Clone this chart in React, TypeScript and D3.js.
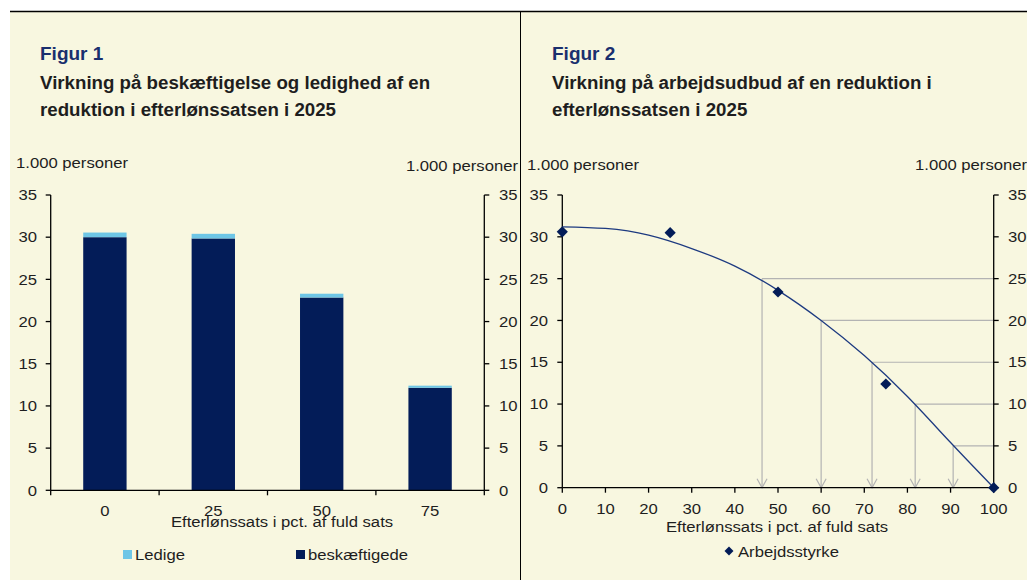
import React from 'react';
import * as d3 from 'd3';

// ---------- data ----------
const categories = ['0', '25', '50', '75'];
const ledige = [0.55, 0.55, 0.45, 0.25];
const beskaeftigede = [30.0, 29.85, 22.85, 12.15];
const yTicks = [0, 5, 10, 15, 20, 25, 30, 35];

const rateX = [0, 25, 50, 75, 100];
const arbejdsstyrke = [30.6, 30.5, 23.4, 12.4, 0];
const trendX = [0, 10, 20, 30, 40, 50, 60, 70, 80, 90, 100];
const trendY = [31.2, 31.0, 30.2, 28.6, 26.5, 23.6, 20.0, 15.8, 10.9, 5.4, 0];
const refLevels = [25, 20, 15, 10, 5];
const refX = [46.3, 60.0, 71.8, 81.8, 90.6];
const xTicks2 = [0, 10, 20, 30, 40, 50, 60, 70, 80, 90, 100];

// ---------- styles ----------
const CREAM = '#f8f7e0';
const NAVY = '#031c58';
const LIGHT = '#6ec6e6';
const TITLE = '#1a2f6e';
const TXT = '#1e1e1e';
const GRAY = '#b3b3b3';
const FONT = '"Liberation Sans", Arial, sans-serif';
const FS = 14.5;
const SX = 1.15;

const T = ({ x, y, anchor = 'start', children }: any) => (
  <text
    transform={`translate(${x},${y}) scale(${SX},1)`}
    textAnchor={anchor}
    fontFamily={FONT}
    fontSize={FS}
    fill={TXT}
  >
    {children}
  </text>
);

export default function App() {
  // ----- left chart scales -----
  const yL = d3.scaleLinear().domain([0, 35]).range([490.3, 195]);
  const xB = d3
    .scaleBand<string>()
    .domain(categories)
    .range([50.7, 484.3])
    .paddingInner(0.6)
    .paddingOuter(0.3);
  const step = xB.step();
  const boundaries = d3.range(categories.length + 1).map((i) => 50.7 + i * step);

  // ----- right chart scales -----
  const x2 = d3.scaleLinear().domain([0, 100]).range([562.3, 993.7]);
  const y2 = d3.scaleLinear().domain([0, 35]).range([487.7, 195]);
  const trendLine = d3
    .line<number>()
    .x((_, i) => x2(trendX[i]))
    .y((d) => y2(d))
    .curve(d3.curveNatural)(trendY) as string;
  const diamond = d3.symbol().type(d3.symbolDiamond2).size(80)() as string;

  return (
    <svg
      width={1027}
      height={580}
      style={{ position: 'absolute', left: 0, top: 0, background: '#fff' }}
    >
      <rect x={10} y={12} width={1017} height={568} fill={CREAM} />
      <line x1={10} x2={1027} y1={11.5} y2={11.5} stroke="#000" strokeWidth={1.5} />
      <line x1={520.5} x2={520.5} y1={12} y2={580} stroke="#000" strokeWidth={1} />

      {/* titles */}
      <g fontFamily={FONT} fontWeight="bold">
        <text x={40} y={60} fontSize={19} fill={TITLE}>Figur 1</text>
        <text x={40} y={89} fontSize={18.7} fill={TXT}>Virkning på beskæftigelse og ledighed af en</text>
        <text x={40} y={115.5} fontSize={18.7} fill={TXT}>reduktion i efterlønssatsen i 2025</text>
        <text x={552} y={60} fontSize={19} fill={TITLE}>Figur 2</text>
        <text x={552} y={89} fontSize={18.7} fill={TXT}>Virkning på arbejdsudbud af en reduktion i</text>
        <text x={552} y={115.5} fontSize={18.7} fill={TXT}>efterlønssatsen i 2025</text>
      </g>

      {/* ---------- left chart ---------- */}
      <T x={16} y={168}>1.000 personer</T>
      <T x={518} y={171} anchor="end">1.000 personer</T>

      {categories.map((c, i) => {
        const x = xB(c)!;
        const w = xB.bandwidth();
        const top = beskaeftigede[i];
        return (
          <g key={c}>
            <rect x={x} y={yL(top)} width={w} height={yL(0) - yL(top)} fill={NAVY} />
            <rect
              x={x}
              y={yL(top + ledige[i])}
              width={w}
              height={yL(top) - yL(top + ledige[i])}
              fill={LIGHT}
            />
          </g>
        );
      })}

      <g stroke="#000" strokeWidth={1.3}>
        <line x1={50.7} x2={50.7} y1={yL(35)} y2={yL(0)} />
        <line x1={484.3} x2={484.3} y1={yL(35)} y2={yL(0)} />
        <line x1={50.7} x2={484.3} y1={yL(0)} y2={yL(0)} />
        {yTicks.map((t) => (
          <g key={t}>
            <line x1={45.7} x2={50.7} y1={yL(t)} y2={yL(t)} />
            <line x1={484.3} x2={489.3} y1={yL(t)} y2={yL(t)} />
          </g>
        ))}
        {boundaries.map((b, i) => (
          <line key={i} x1={b} x2={b} y1={yL(0)} y2={yL(0) + 5} />
        ))}
      </g>
      {yTicks.map((t) => (
        <g key={t}>
          <T x={37} y={yL(t) + 5.2} anchor="end">{t}</T>
          <T x={499} y={yL(t) + 5.2}>{t}</T>
        </g>
      ))}
      {categories.map((c) => (
        <T key={c} x={xB(c)! + xB.bandwidth() / 2} y={516} anchor="middle">{c}</T>
      ))}
      <T x={282} y={527} anchor="middle">Efterlønssats i pct. af fuld sats</T>

      <rect x={123} y={550} width={9} height={9} fill={LIGHT} />
      <T x={135} y={559.5}>Ledige</T>
      <rect x={296} y={550} width={9} height={9} fill={NAVY} />
      <T x={308} y={559.5}>beskæftigede</T>

      {/* ---------- right chart ---------- */}
      <T x={527} y={170}>1.000 personer</T>
      <T x={915} y={170}>1.000 personer</T>

      {/* reference lines */}
      <g stroke={GRAY} strokeWidth={1.2} fill="none">
        {refLevels.map((lv, i) => {
          const x = x2(refX[i]);
          const y = y2(lv);
          const y0 = y2(0);
          return (
            <g key={lv}>
              <line x1={x} x2={x2(100)} y1={y} y2={y} />
              <line x1={x} x2={x} y1={y} y2={y0} />
              <polyline points={`${x - 5},${y0 - 9} ${x},${y0} ${x + 5},${y0 - 9}`} />
            </g>
          );
        })}
      </g>

      <g stroke="#000" strokeWidth={1.3}>
        <line x1={x2(0)} x2={x2(0)} y1={y2(35)} y2={y2(0)} />
        <line x1={x2(100)} x2={x2(100)} y1={y2(35)} y2={y2(0)} />
        <line x1={x2(0)} x2={x2(100)} y1={y2(0)} y2={y2(0)} />
        {yTicks.map((t) => (
          <g key={t}>
            <line x1={x2(0) - 5} x2={x2(0)} y1={y2(t)} y2={y2(t)} />
            <line x1={x2(100)} x2={x2(100) + 5} y1={y2(t)} y2={y2(t)} />
          </g>
        ))}
        {xTicks2.map((t) => (
          <line key={t} x1={x2(t)} x2={x2(t)} y1={y2(0)} y2={y2(0) + 5} />
        ))}
      </g>

      <path d={trendLine} fill="none" stroke="#1d3a80" strokeWidth={1.3} />
      {rateX.map((r, i) => (
        <path
          key={r}
          d={diamond}
          transform={`translate(${x2(r)},${y2(arbejdsstyrke[i])})`}
          fill={NAVY}
        />
      ))}

      {yTicks.map((t) => (
        <g key={t}>
          <T x={548} y={y2(t) + 5.2} anchor="end">{t}</T>
          <T x={1008} y={y2(t) + 5.2}>{t}</T>
        </g>
      ))}
      {xTicks2.map((t) => (
        <T key={t} x={x2(t)} y={514} anchor="middle">{t}</T>
      ))}
      <T x={777} y={532} anchor="middle">Efterlønssats i pct. af fuld sats</T>

      <path d={diamond} transform="translate(729,551) scale(0.8)" fill={NAVY} />
      <T x={738} y={556.5}>Arbejdsstyrke</T>
    </svg>
  );
}
